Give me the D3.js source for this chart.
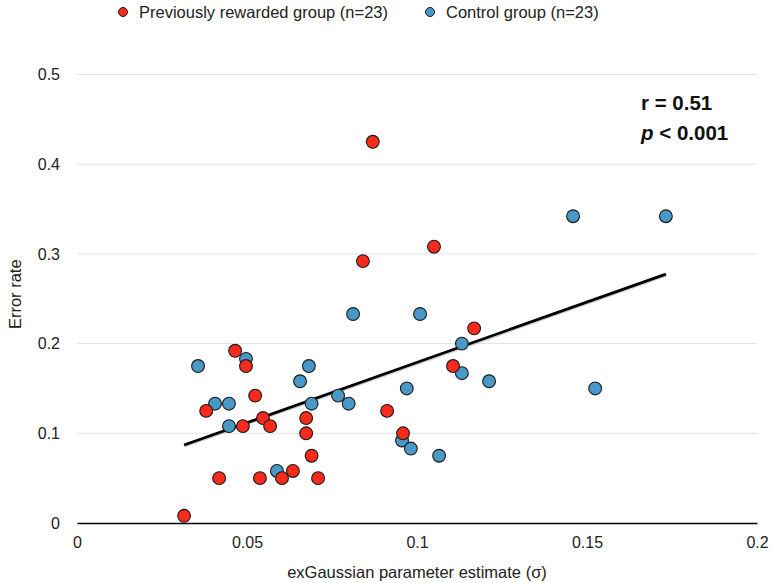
<!DOCTYPE html>
<html>
<head>
<meta charset="utf-8">
<script src="https://cdn.jsdelivr.net/npm/d3@7"></script>
<style>
  body { margin: 0; background: #fff; }
  svg { display: block; font-family: "Liberation Sans", Arial, Helvetica, sans-serif; }
</style>
</head>
<body>
<svg id="chart" width="773" height="583"></svg>
<script>
// Previously rewarded group (sigma, error rate)
const rewardedX = [0.0315, 0.038, 0.0418, 0.0465, 0.0488, 0.0497, 0.0524, 0.0538, 0.0547, 0.0568, 0.0603, 0.0635, 0.0674, 0.0674, 0.069, 0.0709, 0.0841, 0.087, 0.0912, 0.0959, 0.105, 0.1106, 0.1168];
const rewardedY = [0.008, 0.125, 0.050, 0.192, 0.108, 0.175, 0.142, 0.050, 0.117, 0.108, 0.050, 0.058, 0.117, 0.100, 0.075, 0.050, 0.292, 0.425, 0.125, 0.100, 0.308, 0.175, 0.217];
// Control group
const controlX = [0.0356, 0.0406, 0.0447, 0.0447, 0.0497, 0.0588, 0.0656, 0.0682, 0.069, 0.0768, 0.0799, 0.0812, 0.0956, 0.097, 0.0982, 0.1009, 0.1065, 0.1132, 0.1132, 0.1212, 0.1459, 0.1524, 0.1732];
const controlY = [0.175, 0.133, 0.133, 0.108, 0.183, 0.058, 0.158, 0.175, 0.133, 0.142, 0.133, 0.233, 0.092, 0.150, 0.083, 0.233, 0.075, 0.200, 0.167, 0.158, 0.342, 0.150, 0.342];
// Regression line end points
const fitX = [0.0315, 0.1732];
const fitY = [0.087, 0.2775];

const xTicks = [0, 0.05, 0.1, 0.15, 0.2];
const xTickLabels = ["0", "0.05", "0.1", "0.15", "0.2"];
const yTicks = [0, 0.1, 0.2, 0.3, 0.4, 0.5];
const yTickLabels = ["0", "0.1", "0.2", "0.3", "0.4", "0.5"];

const seriesNames = ["Previously rewarded group (n=23)", "Control group (n=23)"];
const seriesColors = ["#fa2a1c", "#4899c8"];

const svg = d3.select("#chart");
const x = d3.scaleLinear().domain([0, 0.2]).range([77, 757]);
const y = d3.scaleLinear().domain([0, 0.5]).range([523, 74.5]);

// gridlines
svg.append("g").selectAll("line").data(yTicks.slice(1)).join("line")
  .attr("x1", x(0)).attr("x2", x(0.2))
  .attr("y1", d => y(d)).attr("y2", d => y(d))
  .attr("stroke", "#e2e2e2").attr("stroke-width", 1);

// y axis labels
const yAxis = d3.axisLeft(y).tickValues(yTicks).tickFormat((d, i) => yTickLabels[i]).tickSize(0).tickPadding(0);
const gy = svg.append("g").attr("transform", `translate(${x(0) - 17},0)`).call(yAxis);
gy.select(".domain").remove();
gy.selectAll("text").attr("font-size", 16).attr("fill", "#222").attr("font-family", "Liberation Sans, Arial, sans-serif");

// x axis
const xAxis = d3.axisBottom(x).tickValues(xTicks).tickFormat((d, i) => xTickLabels[i]).tickSize(0).tickPadding(14);
const gx = svg.append("g").attr("transform", `translate(0,${y(0)})`).call(xAxis);
gx.select(".domain").attr("stroke", "#000").attr("stroke-width", 1.6);
gx.selectAll("text").attr("font-size", 16).attr("fill", "#222").attr("font-family", "Liberation Sans, Arial, sans-serif");

// axis titles
svg.append("text").attr("x", x(0.1)).attr("y", 578).attr("text-anchor", "middle")
  .attr("font-size", 16.5).attr("fill", "#222").text("exGaussian parameter estimate (σ)");
svg.append("text").attr("transform", `translate(21,${y(0.255)}) rotate(-90)`).attr("text-anchor", "middle")
  .attr("font-size", 16.5).attr("fill", "#222").text("Error rate");

// regression line with soft shadow
svg.append("line").attr("x1", x(fitX[0])).attr("y1", y(fitY[0]) + 1.2).attr("x2", x(fitX[1])).attr("y2", y(fitY[1]) + 1.2)
  .attr("stroke", "#bbb").attr("stroke-width", 3).attr("opacity", 0.7);
svg.append("line").attr("x1", x(fitX[0])).attr("y1", y(fitY[0])).attr("x2", x(fitX[1])).attr("y2", y(fitY[1]))
  .attr("stroke", "#000").attr("stroke-width", 2.8);

// points
const rewarded = rewardedX.map((d, i) => ({x: d, y: rewardedY[i]}));
const control = controlX.map((d, i) => ({x: d, y: controlY[i]}));
function drawPts(data, color) {
  svg.append("g").selectAll("circle").data(data).join("circle")
    .attr("cx", d => x(d.x)).attr("cy", d => y(d.y)).attr("r", 6.4)
    .attr("fill", color).attr("stroke", "#1a1a1a").attr("stroke-width", 1.1);
}
drawPts(control, seriesColors[1]);
drawPts(rewarded, seriesColors[0]);

// legend
const legX = [123, 430];
seriesNames.forEach((n, i) => {
  svg.append("circle").attr("cx", legX[i]).attr("cy", 12).attr("r", 4.5)
    .attr("fill", seriesColors[i]).attr("stroke", "#1a1a1a").attr("stroke-width", 1);
  svg.append("text").attr("x", legX[i] + 16).attr("y", 18).attr("font-size", 16.5).attr("fill", "#222").text(n);
});

// annotation
svg.append("text").attr("x", 641).attr("y", 110).attr("font-size", 20.5).attr("font-weight", "bold").attr("fill", "#111").text("r = 0.51");
const t2 = svg.append("text").attr("x", 641).attr("y", 140).attr("font-size", 20.5).attr("font-weight", "bold").attr("fill", "#111");
t2.append("tspan").attr("font-style", "italic").text("p");
t2.append("tspan").text(" < 0.001");
</script>
</body>
</html>
